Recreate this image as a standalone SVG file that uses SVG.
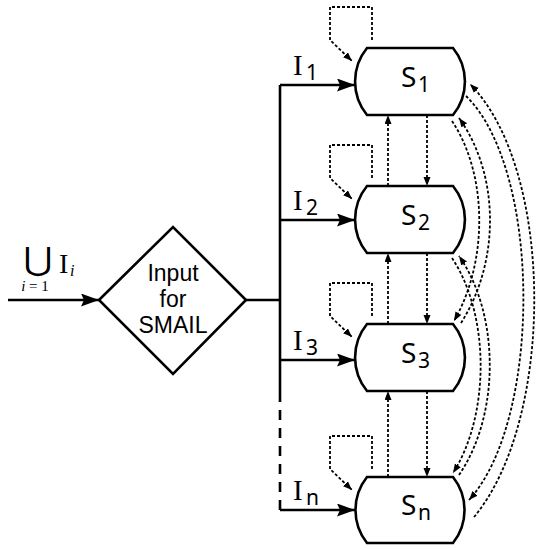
<svg xmlns="http://www.w3.org/2000/svg" width="538" height="550" viewBox="0 0 538 550">
<style>
.solid{fill:none;stroke:#000;stroke-width:2.6}
.dot{fill:none;stroke:#000;stroke-width:1.8;stroke-dasharray:3,2}
.node{fill:#fff;stroke:#000;stroke-width:2.6}
.lbl{font-family:"Noto Sans","Open Sans",sans-serif;fill:#000}
.dia{font-family:"Liberation Sans",Arial,sans-serif;fill:#000;font-size:23px;text-anchor:middle}
.ser{font-family:"Liberation Serif","DejaVu Serif",serif;fill:#000}
</style>
<defs>
<marker id="big" markerUnits="userSpaceOnUse" markerWidth="19" markerHeight="13" refX="18" refY="6.5" orient="auto">
<path d="M0,0 L18,6.5 L0,13 L3,6.5 z" fill="#000"/>
</marker>
<marker id="sm" markerUnits="userSpaceOnUse" markerWidth="10" markerHeight="8" refX="9" refY="3.5" orient="auto">
<path d="M0,0 L9,3.5 L0,7 z" fill="#000"/>
</marker>
</defs>
<g id="input-label">
<text x="0" y="0" font-size="32" font-family="DejaVu Sans, sans-serif" text-anchor="middle" transform="translate(38,270) scale(1.1,1)">⋃</text>
<text class="ser" x="59" y="273" font-size="28">I</text>
<text class="ser" x="70" y="276" font-size="16" font-style="italic">i</text>
<text class="ser" x="35" y="291" font-size="15" text-anchor="middle"><tspan font-style="italic">i</tspan> = 1</text>
</g>
<g id="connectors">
<path class="solid" d="M8,300 H99" marker-end="url(#big)"/>
<path class="solid" d="M246,300 H280"/>
<path class="solid" d="M280,85 V392"/>
<path class="solid" d="M280,392 V510" stroke-dasharray="10,8"/>
<path class="solid" d="M280,85 H355" marker-end="url(#big)"/>
<path class="solid" d="M280,220 H355" marker-end="url(#big)"/>
<path class="solid" d="M280,360 H355" marker-end="url(#big)"/>
<path class="solid" d="M280,510 H355" marker-end="url(#big)"/>
<path class="dot" d="M372,40 V7 H330 V40 L352,61" marker-end="url(#sm)"/>
<path class="dot" d="M372,178 V145 H330 V178 L352,199" marker-end="url(#sm)"/>
<path class="dot" d="M372,316 V283 H330 V316 L352,337" marker-end="url(#sm)"/>
<path class="dot" d="M372,469 V436 H330 V469 L352,490" marker-end="url(#sm)"/>
<path class="dot" d="M388,186 V115" marker-end="url(#sm)"/>
<path class="dot" d="M427,115 V186" marker-end="url(#sm)"/>
<path class="dot" d="M388,324 V253" marker-end="url(#sm)"/>
<path class="dot" d="M427,253 V324" marker-end="url(#sm)"/>
<path class="dot" d="M388,477 V391" marker-end="url(#sm)"/>
<path class="dot" d="M427,391 V477" marker-end="url(#sm)"/>
<path class="dot" d="M461,323 C500,262 500,175 459,118" marker-end="url(#sm)"/>
<path class="dot" d="M452,121 C488,175 488,262 454,321" marker-end="url(#sm)"/>
<path class="dot" d="M459,475 C500,415 500,315 459,256" marker-end="url(#sm)"/>
<path class="dot" d="M452,258 C490,315 490,415 453,473" marker-end="url(#sm)"/>
<path class="dot" d="M474,517 C555,420 555,170 470,84" marker-end="url(#sm)"/>
<path class="dot" d="M466,96 C542,170 542,420 469,500" marker-end="url(#sm)"/>
</g>
<g id="smail">
<path class="node" d="M99,300 L173,227 L246,300 L173,374 z"/>
<text class="dia" x="173" y="281">Input</text>
<text class="dia" x="173" y="307">for</text>
<text class="dia" x="173" y="333">SMAIL</text>
</g>
<g id="I1"><text class="ser" x="293" y="75" font-size="29">I</text><text class="lbl" x="306" y="80" font-size="21">1</text></g>
<g id="I2"><text class="ser" x="293" y="210" font-size="29">I</text><text class="lbl" x="306" y="215" font-size="21">2</text></g>
<g id="I3"><text class="ser" x="293" y="350" font-size="29">I</text><text class="lbl" x="306" y="355" font-size="21">3</text></g>
<g id="In"><text class="ser" x="293" y="500" font-size="29">I</text><text class="lbl" x="306" y="505" font-size="21">n</text></g>
<g id="S1">
<path class="node" d="M367,48 H453 A53,53 0 0 1 453,115 H367 A53,53 0 0 1 367,48 z"/>
<text class="lbl" x="401" y="87" font-size="28">S</text><text class="lbl" x="418" y="92" font-size="21">1</text>
</g>
<g id="S2">
<path class="node" d="M367,186 H453 A53,53 0 0 1 453,253 H367 A53,53 0 0 1 367,186 z"/>
<text class="lbl" x="401" y="225" font-size="28">S</text><text class="lbl" x="418" y="230" font-size="21">2</text>
</g>
<g id="S3">
<path class="node" d="M367,324 H453 A53,53 0 0 1 453,391 H367 A53,53 0 0 1 367,324 z"/>
<text class="lbl" x="401" y="363" font-size="28">S</text><text class="lbl" x="418" y="368" font-size="21">3</text>
</g>
<g id="Sn">
<path class="node" d="M367,477 H453 A53,53 0 0 1 453,543 H367 A53,53 0 0 1 367,477 z"/>
<text class="lbl" x="401" y="515" font-size="28">S</text><text class="lbl" x="418" y="520" font-size="21">n</text>
</g>
</svg>
